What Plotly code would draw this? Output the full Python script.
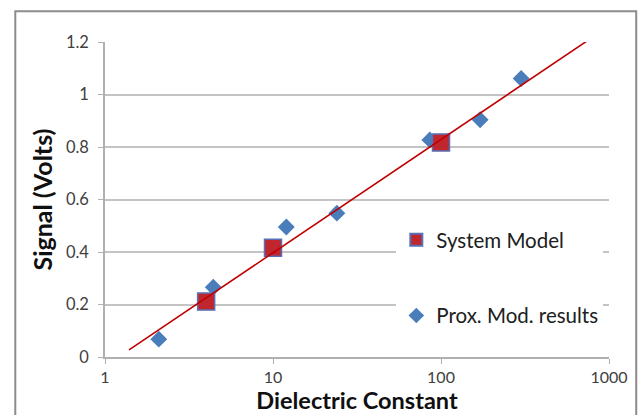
import plotly.graph_objects as go

# Measured signal versus dielectric constant
prox_x = [2.09, 4.41, 12.0, 24.0, 85.8, 171, 300]
prox_y = [0.068, 0.266, 0.495, 0.548, 0.827, 0.904, 1.061]

model_x = [4.0, 10.0, 100.0]
model_y = [0.211, 0.416, 0.817]

# Logarithmic trend line endpoints
trend_x = [1.39, 760]
trend_y = [0.027, 1.209]

x_ticks = [1, 10, 100, 1000]
x_tick_text = ["1", "10", "100", "1000"]

FONT = "Lato"
BLUE = "#4a7ebb"
RED = "#c0262d"

fig = go.Figure()

fig.add_trace(go.Scatter(
    x=prox_x, y=prox_y, mode="markers", name="Prox. Mod. results",
    marker=dict(symbol="diamond", size=13, color=BLUE, line=dict(width=0)),
    legendgroup="b", legendrank=2,
))
fig.add_trace(go.Scatter(
    x=model_x, y=model_y, mode="markers", name="System Model",
    marker=dict(symbol="square", size=17, color=RED, line=dict(width=1.5, color="#5a6fb5")),
    legendgroup="a", legendrank=1,
))
fig.add_trace(go.Scatter(
    x=trend_x, y=trend_y, mode="lines", showlegend=False,
    line=dict(color="#c00000", width=1.6),
))

fig.update_layout(
    width=641, height=415,
    margin=dict(l=105, r=32, t=42, b=58),
    paper_bgcolor="white", plot_bgcolor="white",
    font=dict(family=FONT, color="#404040"),
    legend=dict(
        x=0.578, y=0.435, xanchor="left", yanchor="top",
        bgcolor="white", borderwidth=0,
        font=dict(family=FONT, size=20.5, color="#202020"),
        tracegroupgap=46, entrywidth=225, itemsizing="constant",
    ),
    shapes=[dict(
        type="rect", xref="paper", yref="paper",
        x0=-0.178, x1=1.054, y0=-0.25, y1=1.098,
        line=dict(color="#8c8c8c", width=2), layer="below",
    )],
)

fig.update_xaxes(
    type="log", range=[0, 3], automargin=False,
    tickvals=x_ticks, ticktext=x_tick_text,
    showgrid=False, showline=True, linecolor="#b0b0b0", linewidth=1.5,
    ticks="outside", ticklen=5, tickcolor="#b0b0b0",
    tickfont=dict(size=16, color="#404040"),
    ticklabelstandoff=0,
    title=dict(text="<b>Dielectric Constant</b>", font=dict(size=23.5, color="#101010"), standoff=5),
)
fig.update_yaxes(
    range=[0, 1.2], dtick=0.2, automargin=False,
    showgrid=True, gridcolor="#c4c4c4", gridwidth=1.5,
    showline=True, linecolor="#b0b0b0", linewidth=1.5,
    ticks="outside", ticklen=5, tickcolor="#b0b0b0",
    tickfont=dict(size=16.5, color="#404040"),
    ticklabelstandoff=6,
    zeroline=False,
    title=dict(text="<b>Signal (Volts)</b>", font=dict(size=25, color="#101010"), standoff=6),
)

fig.write_html("out.html")
